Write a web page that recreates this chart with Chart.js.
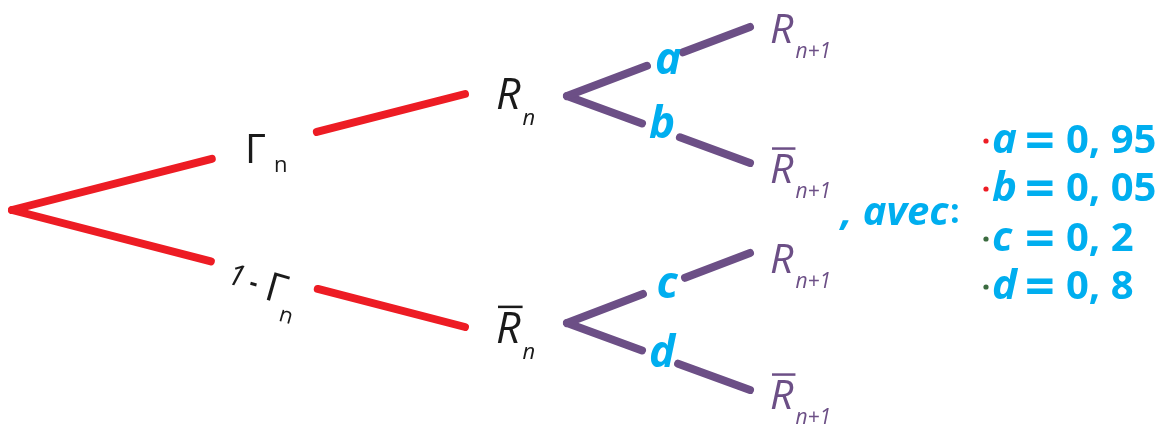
<!DOCTYPE html>
<html>
<head>
<meta charset="utf-8">
<script src="https://cdn.jsdelivr.net/npm/chart.js@4"></script>
<style>
  html, body { margin: 0; padding: 0; background: #fff; }
  #wrap { width: 1161px; height: 426px; position: relative; }
</style>
</head>
<body>
<div id="wrap"><canvas id="tree"></canvas></div>
<script>
// tree nodes (in the chart's own x / y units)
const rootX = 12, rootY = 210;
const stage1X = 465;                 // end of the red branches
const stage1Y = [94, 327];
const forkX = 567;                   // start of the purple forks
const forkY = [96, 323];
const stage2X = 750;
const stage2Y = [[27, 163], [253, 390]];

// where each branch is cut for its label (fraction along the branch)
const stage1Gap = [[0.441, 0.673], [0.439, 0.675]];
const stage2Gap = [[[0.437, 0.634], [0.410, 0.617]], [[0.415, 0.645], [0.410, 0.607]]];

// texts
const stage1Labels = ['Γ', '1 - Γ'];
const stage1Nodes = ['R', 'R̄'];
const stage2Labels = [['a', 'b'], ['c', 'd']];
const stage2Nodes = [['R', 'R̄'], ['R', 'R̄']];
const probNames = ['a', 'b', 'c', 'd'];
const probValues = ['0, 95', '0, 05', '0, 2', '0, 8'];
const bulletColors = ['#ed1c24', '#ed1c24', '#3b6b3f', '#3b6b3f'];

const RED = '#ed1c24';
const PURPLE = '#6c4f86';
const BLUE = '#00aeef';
const INK = '#1a1a1a';

function lerp(a, b, t) {
    return { x: a.x + (b.x - a.x) * t, y: a.y + (b.y - a.y) * t };
}

// build the two pieces of a branch around its label gap
function branchPieces(from, to, gap, color) {
    let p1 = lerp(from, to, gap[0]);
    let p2 = lerp(from, to, gap[1]);
    let style = {
        showLine: true, borderColor: color, borderWidth: 8,
        borderCapStyle: 'round', pointRadius: 0, fill: false
    };
    return [
        Object.assign({ data: [from, p1] }, style),
        Object.assign({ data: [p2, to] }, style)
    ];
}

let datasets = [];
for (let i = 0; i < 2; i++) {
    datasets.push(...branchPieces({ x: rootX, y: rootY }, { x: stage1X, y: stage1Y[i] }, stage1Gap[i], RED));
    for (let j = 0; j < 2; j++) {
        datasets.push(...branchPieces({ x: forkX, y: forkY[i] }, { x: stage2X, y: stage2Y[i][j] }, stage2Gap[i][j], PURPLE));
    }
}

// draws "R" + subscript, with an optional bar over it
function nodeText(ctx, main, sub, x, y, size, subSize, color) {
    let bar = main.indexOf('̄') >= 0;
    let letter = main.replace('̄', '');
    ctx.fillStyle = color;
    ctx.strokeStyle = color;
    ctx.textBaseline = 'alphabetic';
    ctx.textAlign = 'left';
    ctx.font = 'italic ' + size + 'px "Open Sans"';
    ctx.fillText(letter, x, y);
    let w = ctx.measureText(letter).width;
    if (bar) {
        ctx.lineWidth = 2.5;
        ctx.beginPath();
        ctx.moveTo(x + 2, y - size * 0.84);
        ctx.lineTo(x + w + 2, y - size * 0.84);
        ctx.stroke();
    }
    ctx.font = 'italic ' + subSize + 'px "Open Sans"';
    ctx.fillText(sub, x + w + 2, y + subSize * 0.72);
}

const labelsPlugin = {
    id: 'treeLabels',
    afterDatasetsDraw(chart) {
        const ctx = chart.ctx;
        const sx = chart.scales.x, sy = chart.scales.y;
        const px = v => sx.getPixelForValue(v);
        const py = v => sy.getPixelForValue(v);
        ctx.save();

        // stage 1 labels (on the red branches)
        ctx.fillStyle = INK;
        ctx.textBaseline = 'alphabetic';
        ctx.font = '40px "Open Sans"';
        ctx.fillText(stage1Labels[0], px(245), py(163));
        ctx.font = '22px "Open Sans"';
        ctx.fillText('n', px(274), py(172));

        ctx.save();
        ctx.translate(px(226), py(283));
        ctx.rotate(Math.atan2(stage1Y[1] - rootY, stage1X - rootX) * 1.1);
        ctx.font = 'italic 30px "Open Sans"';
        ctx.fillText('1', 0, 0);
        ctx.font = 'bold 24px "Open Sans"';
        ctx.fillText('-', 23, 0);
        ctx.font = '40px "Open Sans"';
        ctx.fillText('Γ', 40, 5);
        ctx.font = '22px "Open Sans"';
        ctx.fillText('n', 60, 22);
        ctx.restore();

        // stage 1 nodes
        nodeText(ctx, stage1Nodes[0], 'n', px(496), py(109), 43, 22, INK);
        nodeText(ctx, stage1Nodes[1], 'n', px(496), py(343), 43, 22, INK);

        // stage 2 nodes
        const subY = [[43, 183], [273, 409]];
        for (let i = 0; i < 2; i++) {
            for (let j = 0; j < 2; j++) {
                nodeText(ctx, stage2Nodes[i][j], 'n+1', px(770), py(subY[i][j]), 41, 21, PURPLE);
            }
        }

        // probabilities on purple branches
        ctx.fillStyle = BLUE;
        ctx.font = 'bold italic 44px "Open Sans"';
        ctx.textAlign = 'center';
        const letterPos = [[[668, 74], [662, 138]], [[667, 298], [662, 367]]];
        for (let i = 0; i < 2; i++) {
            for (let j = 0; j < 2; j++) {
                let p = letterPos[i][j];
                ctx.fillText(stage2Labels[i][j], px(p[0]), py(p[1]));
            }
        }

        // ", avec:" and the list of values
        ctx.textAlign = 'left';
        ctx.font = 'bold italic 40px "Open Sans"';
        ctx.fillText(', avec', px(841), py(225));
        ctx.font = 'bold 34px "Open Sans"';
        ctx.fillText(':', px(950), py(223));

        const rowY = [153, 201, 251, 299];
        for (let k = 0; k < probNames.length; k++) {
            ctx.fillStyle = bulletColors[k];
            ctx.beginPath();
            ctx.arc(px(986), py(rowY[k] - 12), 2.6, 0, Math.PI * 2);
            ctx.fill();
            ctx.fillStyle = BLUE;
            ctx.font = 'bold italic 42px "Open Sans"';
            ctx.fillText(probNames[k], px(992), py(rowY[k]));
            ctx.font = 'bold 52px "Open Sans"';
            ctx.fillText('=', px(1025), py(rowY[k] + 6));
            ctx.font = 'bold 40px "Open Sans"';
            ctx.fillText(probValues[k], px(1066), py(rowY[k]));
        }
        ctx.restore();
    }
};

new Chart(document.getElementById('tree'), {
    type: 'scatter',
    data: { datasets: datasets },
    options: {
        responsive: true,
        maintainAspectRatio: false,
        animation: false,
        layout: { padding: 0 },
        plugins: {
            legend: { display: false },
            tooltip: { enabled: false }
        },
        scales: {
            x: { type: 'linear', min: 0, max: 1161, display: false },
            y: { type: 'linear', min: 0, max: 426, reverse: true, display: false }
        }
    },
    plugins: [labelsPlugin]
});
</script>
</body>
</html>
